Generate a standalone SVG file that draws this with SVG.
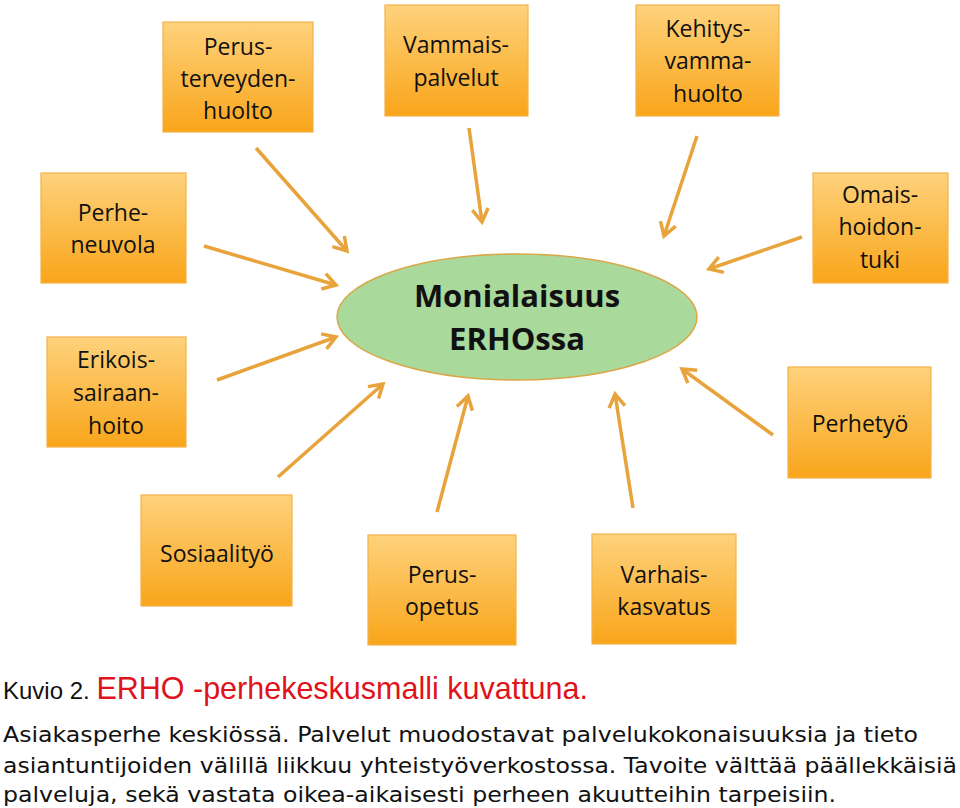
<svg xmlns="http://www.w3.org/2000/svg" width="960" height="808" viewBox="0 0 960 808">
<style>
.box{fill:url(#g);stroke:#f2b24a;stroke-width:1.2}
.bt{font-family:"Open Sans","Liberation Sans",sans-serif;font-size:23px;fill:#111;text-anchor:middle}
.ct{font-family:"Open Sans","Liberation Sans",sans-serif;font-size:31px;font-weight:bold;fill:#111;text-anchor:middle}
.arr{stroke:#e8a43b;stroke-width:3.5;fill:none;marker-end:url(#ah)}
.cap{font-family:"Liberation Sans",Arial,sans-serif}
.body{font-family:"DejaVu Sans","Noto Sans",sans-serif;font-size:22px;fill:#111}
</style>
<defs>
<linearGradient id="g" x1="0" y1="0" x2="0" y2="1">
<stop offset="0" stop-color="#fed27c"/>
<stop offset="1" stop-color="#f9a51a"/>
</linearGradient>
<marker id="ah" markerUnits="userSpaceOnUse" markerWidth="20" markerHeight="20" viewBox="0 0 20 20" refX="17" refY="10" orient="auto" overflow="visible">
<path d="M4,2 L17,10 L4,18" fill="none" stroke="#e8a43b" stroke-width="3.5" stroke-linejoin="miter"/>
</marker>
</defs>
<rect width="960" height="808" fill="#fff"/>

<g id="connectors">
<line class="arr" x1="256" y1="148" x2="347" y2="251"/>
<line class="arr" x1="469" y1="128" x2="482" y2="222"/>
<line class="arr" x1="697" y1="136" x2="664" y2="236"/>
<line class="arr" x1="802" y1="237" x2="709" y2="269"/>
<line class="arr" x1="773" y1="435" x2="682" y2="369"/>
<line class="arr" x1="633" y1="508" x2="615" y2="394"/>
<line class="arr" x1="437" y1="512" x2="468" y2="396"/>
<line class="arr" x1="278" y1="477" x2="383" y2="384"/>
<line class="arr" x1="217" y1="380" x2="336" y2="337"/>
<line class="arr" x1="204" y1="246" x2="336" y2="285"/>
</g>

<g id="center">
<ellipse cx="517" cy="317" rx="180" ry="63" fill="#a9d99b" stroke="#dba647" stroke-width="1.5"/>
<text class="ct" x="517" y="307">Monialaisuus</text>
<text class="ct" x="517" y="350">ERHOssa</text>
</g>

<g id="perusterveydenhuolto">
<rect class="box" x="163" y="22" width="150" height="110"/>
<text class="bt" x="238" y="55">Perus-</text>
<text class="bt" x="238" y="87">terveyden-</text>
<text class="bt" x="238" y="119">huolto</text>
</g>
<g id="vammaispalvelut">
<rect class="box" x="385" y="5" width="143" height="111"/>
<text class="bt" x="456" y="53">Vammais-</text>
<text class="bt" x="456" y="86">palvelut</text>
</g>
<g id="kehitysvammahuolto">
<rect class="box" x="636" y="5" width="143" height="111"/>
<text class="bt" x="708" y="37">Kehitys-</text>
<text class="bt" x="708" y="69">vamma-</text>
<text class="bt" x="708" y="102">huolto</text>
</g>
<g id="perheneuvola">
<rect class="box" x="41" y="173" width="145" height="110"/>
<text class="bt" x="113" y="221">Perhe-</text>
<text class="bt" x="113" y="253">neuvola</text>
</g>
<g id="omaishoidontuki">
<rect class="box" x="813" y="173" width="135" height="110"/>
<text class="bt" x="880" y="203">Omais-</text>
<text class="bt" x="880" y="235">hoidon-</text>
<text class="bt" x="880" y="268">tuki</text>
</g>
<g id="erikoissairaanhoito">
<rect class="box" x="47" y="337" width="139" height="110"/>
<text class="bt" x="116" y="368">Erikois-</text>
<text class="bt" x="116" y="401">sairaan-</text>
<text class="bt" x="116" y="434">hoito</text>
</g>
<g id="perhetyo">
<rect class="box" x="788" y="367" width="143" height="111"/>
<text class="bt" x="860" y="432">Perhetyö</text>
</g>
<g id="sosiaalityo">
<rect class="box" x="141" y="495" width="151" height="111"/>
<text class="bt" x="217" y="562">Sosiaalityö</text>
</g>
<g id="perusopetus">
<rect class="box" x="368" y="535" width="148" height="110"/>
<text class="bt" x="442" y="583">Perus-</text>
<text class="bt" x="442" y="615">opetus</text>
</g>
<g id="varhaiskasvatus">
<rect class="box" x="592" y="534" width="144" height="110"/>
<text class="bt" x="664" y="583">Varhais-</text>
<text class="bt" x="664" y="615">kasvatus</text>
</g>

<g id="caption">
<text class="cap" x="3" y="699" font-size="24" fill="#111">Kuvio 2. <tspan fill="#e0121b" font-size="30.5">ERHO -perhekeskusmalli kuvattuna.</tspan></text>
<text class="body" x="3" y="742" textLength="915" lengthAdjust="spacingAndGlyphs">Asiakasperhe keskiössä. Palvelut muodostavat palvelukokonaisuuksia ja tieto</text>
<text class="body" x="3" y="773" textLength="954" lengthAdjust="spacingAndGlyphs">asiantuntijoiden välillä liikkuu yhteistyöverkostossa. Tavoite välttää päällekkäisiä</text>
<text class="body" x="3" y="802" textLength="833" lengthAdjust="spacingAndGlyphs">palveluja, sekä vastata oikea-aikaisesti perheen akuutteihin tarpeisiin.</text>
</g>
</svg>
